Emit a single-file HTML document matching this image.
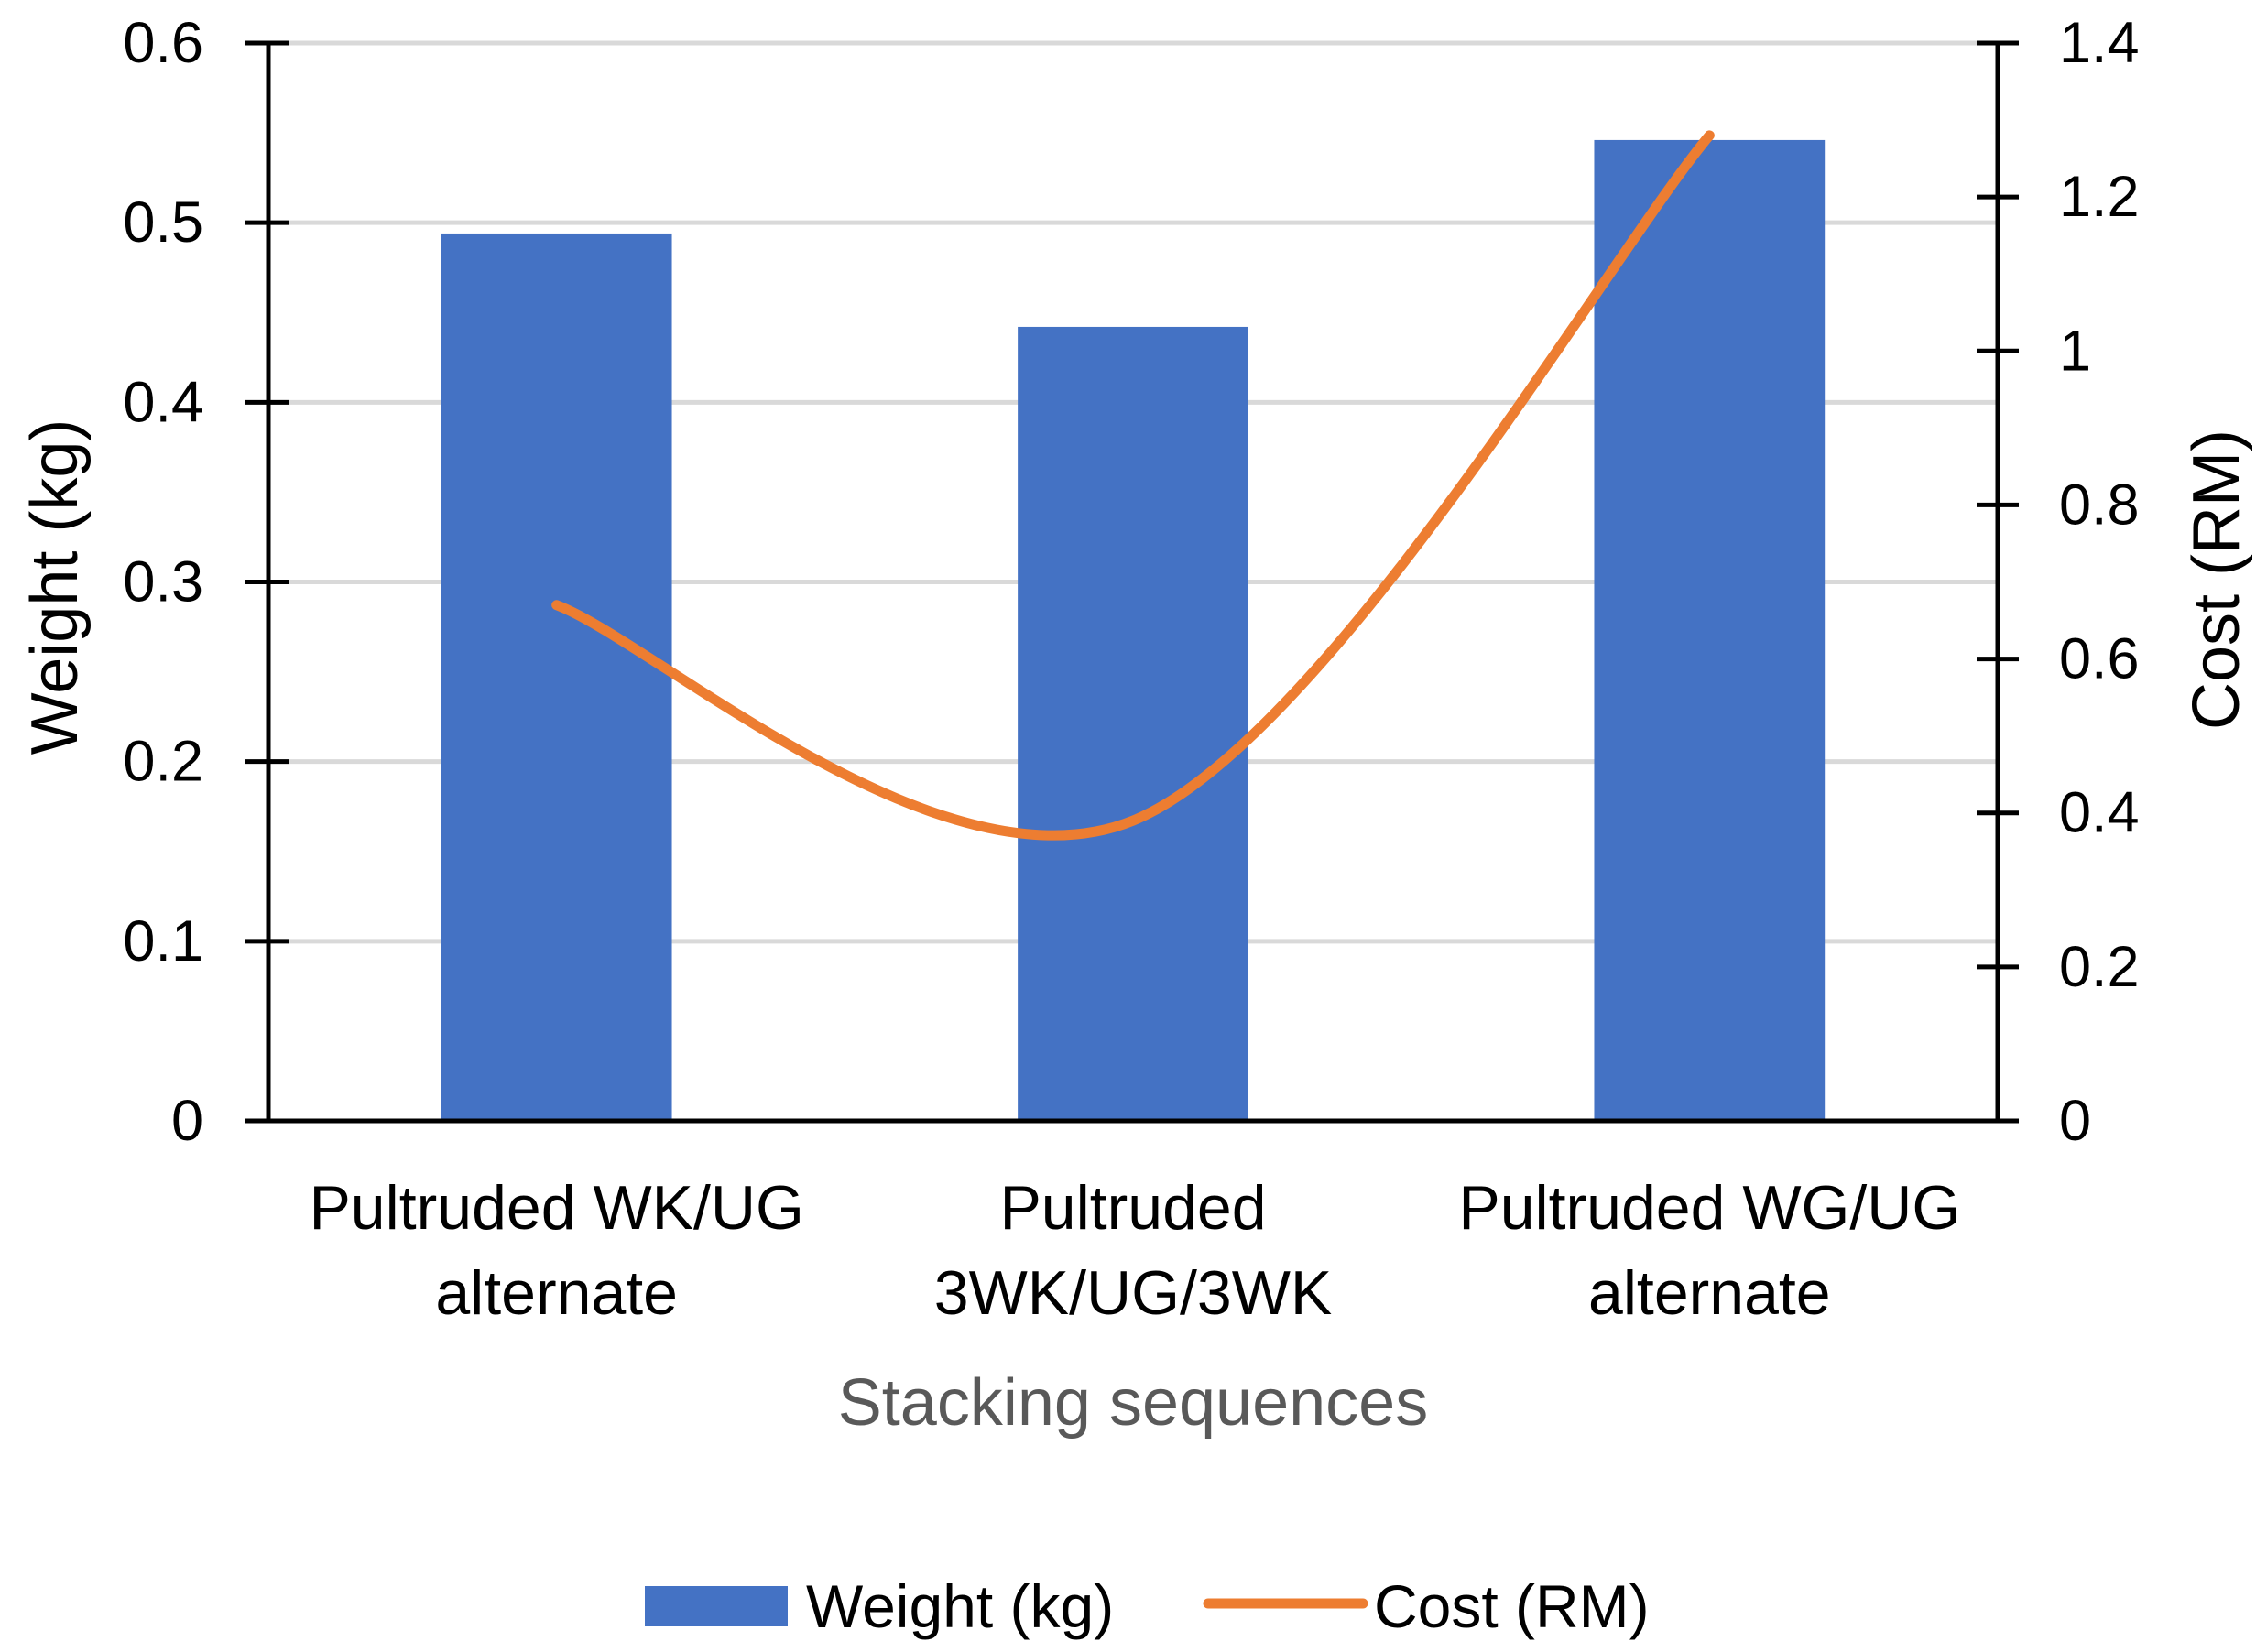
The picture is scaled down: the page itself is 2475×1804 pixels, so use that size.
<!DOCTYPE html>
<html><head><meta charset="utf-8"><style>
html,body{margin:0;padding:0;background:#fff;}
svg{display:block;font-family:"Liberation Sans",sans-serif;}
</style></head><body>
<svg id="chart" width="2475" height="1804" viewBox="0 0 2475 1804">
<g id="grid"></g>
<g id="bars"></g>
<g id="axes"></g>
<g id="line"></g>
<g id="labels"></g>
<text x="60" y="641" font-size="72" text-anchor="middle" dominant-baseline="central" transform="rotate(-90 60 641)" fill="#000">Weight (kg)</text>
<text x="2420" y="633" font-size="72" text-anchor="middle" dominant-baseline="central" transform="rotate(-90 2420 633)" fill="#000">Cost (RM)</text>
<text x="1237" y="1532" font-size="72" text-anchor="middle" dominant-baseline="central" fill="#595959">Stacking sequences</text>
<g>
<rect x="704" y="1732" width="156" height="44" fill="#4472C4"></rect>
<text x="880" y="1754" font-size="66" dominant-baseline="central" fill="#000">Weight (kg)</text>
<line x1="1319" y1="1751" x2="1488" y2="1751" stroke="#ED7D31" stroke-width="11" stroke-linecap="round"></line>
<text x="1500" y="1754" font-size="66" dominant-baseline="central" fill="#000">Cost (RM)</text>
</g>
</svg>
<script>
const categories = [["Pultruded WK/UG","alternate"],["Pultruded","3WK/UG/3WK"],["Pultruded WG/UG","alternate"]];
const weights = [0.494, 0.442, 0.546];
const costs = [0.67, 0.39, 1.28];
const leftTicks = [0,0.1,0.2,0.3,0.4,0.5,0.6];
const rightTicks = [0,0.2,0.4,0.6,0.8,1,1.2,1.4];

const NS="http://www.w3.org/2000/svg";
const X0=293, X1=2181, Y0=1224, YT=47;
const yL=v=>Y0-(v/0.6)*(Y0-YT);
const yR=v=>Y0-(v/1.4)*(Y0-YT);
const band=(X1-X0)/categories.length;
const xC=i=>X0+band*(i+0.5);
function mk(tag,attrs,parent){const e=document.createElementNS(NS,tag);for(const k in attrs)e.setAttribute(k,attrs[k]);parent.appendChild(e);return e;}
const grid=document.getElementById('grid'),bars=document.getElementById('bars'),axes=document.getElementById('axes'),line=document.getElementById('line'),labels=document.getElementById('labels');

leftTicks.forEach(t=>{
  if(t>0){const g=mk('line',{x1:X0,x2:X1,y1:yL(t),y2:yL(t),stroke:'#d9d9d9','stroke-width':5},grid);
  
  }
  const tk=mk('line',{x1:268,x2:316,y1:yL(t),y2:yL(t),stroke:'#000','stroke-width':5},axes);
  
  
  const tx=mk('text',{x:222,y:yL(t),'font-size':63,'text-anchor':'end','dominant-baseline':'central',fill:'#000'},labels);
  tx.textContent=String(t);
  
  
});
rightTicks.forEach(t=>{
  const tk=mk('line',{x1:2158,x2:2204,y1:yR(t),y2:yR(t),stroke:'#000','stroke-width':5},axes);
  
  
  const tx=mk('text',{x:2248,y:yR(t),'font-size':63,'text-anchor':'start','dominant-baseline':'central',fill:'#000'},labels);
  tx.textContent=String(t);
  
  
});
weights.forEach((w,i)=>{
  const bw=band*0.4;
  const r=mk('rect',{x:xC(i)-bw/2,y:yL(w),width:bw,height:Y0-yL(w),fill:'#4472C4'},bars);
  
  
});
const la=mk('line',{x1:X0,x2:X0,y1:YT-2,y2:Y0,stroke:'#000','stroke-width':5},axes);


const ra=mk('line',{x1:X1,x2:X1,y1:YT-2,y2:Y0,stroke:'#000','stroke-width':5},axes);


const xa=mk('line',{x1:270,x2:2204,y1:Y0,y2:Y0,stroke:'#000','stroke-width':5},axes);



categories.forEach((c,i)=>{
  c.forEach((s,j)=>{
    const tx=mk('text',{x:xC(i),y:1319+j*93,'font-size':68,'text-anchor':'middle','dominant-baseline':'central',fill:'#000'},labels);
    tx.textContent=s;
    
    
  });
});
const pts=costs.map((c,i)=>[xC(i),yR(c)]);
let d='M'+pts[0][0]+','+pts[0][1];
for(let i=0;i<pts.length-1;i++){
  const p0=pts[Math.max(0,i-1)],p1=pts[i],p2=pts[i+1],p3=pts[Math.min(pts.length-1,i+2)];
  const c1=[p1[0]+(p2[0]-p0[0])/6,p1[1]+(p2[1]-p0[1])/6];
  const c2=[p2[0]-(p3[0]-p1[0])/6,p2[1]-(p3[1]-p1[1])/6];
  d+=' C'+c1[0]+','+c1[1]+' '+c2[0]+','+c2[1]+' '+p2[0]+','+p2[1];
}
const pl=mk('path',{d:d,fill:'none',stroke:'#ED7D31','stroke-width':11,'stroke-linecap':'round'},line);


</script>
</body></html>
